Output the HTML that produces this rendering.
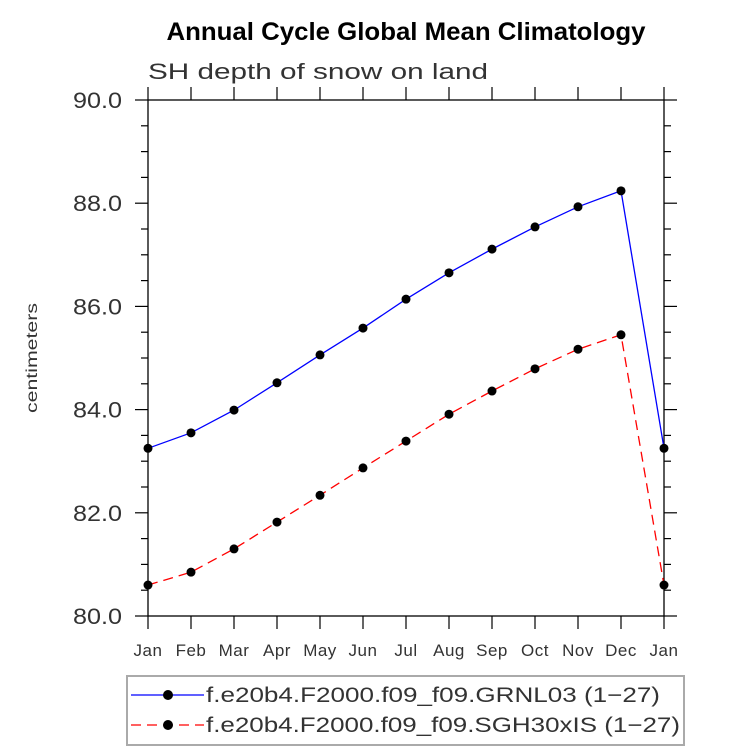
<!DOCTYPE html>
<html><head><meta charset="utf-8"><style>
body{margin:0;background:#fff;width:733px;height:751px;overflow:hidden}
text{font-family:"Liberation Sans",sans-serif}
</style></head><body>
<svg id="chart" width="733" height="751" xmlns="http://www.w3.org/2000/svg">
<text x="406" y="40" text-anchor="middle" font-size="25" font-weight="bold" textLength="479" lengthAdjust="spacingAndGlyphs">Annual Cycle Global Mean Climatology</text>
<text x="148" y="79" font-size="22" fill="#333" textLength="340" lengthAdjust="spacingAndGlyphs">SH depth of snow on land</text>
<text transform="translate(37,358) rotate(-90)" text-anchor="middle" font-size="16" fill="#333" textLength="110" lengthAdjust="spacingAndGlyphs">centimeters</text>
<g id="axes"></g>
<g id="series"></g>
<rect x="127" y="676" width="557" height="69" fill="none" stroke="#aaa" stroke-width="2"/>
<g>
<line x1="131" y1="695" x2="204" y2="695" stroke="#00f" stroke-width="1.3"/>
<circle cx="168" cy="695" r="5" fill="#000"/>
<text x="206" y="702" font-size="21" fill="#333" textLength="454" lengthAdjust="spacingAndGlyphs">f.e20b4.F2000.f09_f09.GRNL03 (1−27)</text>
</g>
<g>
<line x1="131" y1="725" x2="204" y2="725" stroke="#f00" stroke-width="1.3" stroke-dasharray="10,6"/>
<circle cx="168" cy="725" r="5" fill="#000"/>
<text x="206" y="732" font-size="21" fill="#333" textLength="474" lengthAdjust="spacingAndGlyphs">f.e20b4.F2000.f09_f09.SGH30xIS (1−27)</text>
</g>
</svg>
<script>
const months=["Jan","Feb","Mar","Apr","May","Jun","Jul","Aug","Sep","Oct","Nov","Dec","Jan"];
const yTicks=["80.0","82.0","84.0","86.0","88.0","90.0"];
const grnl03=[83.25,83.55,83.99,84.52,85.06,85.58,86.14,86.65,87.11,87.54,87.93,88.24,83.25];
const sgh30xis=[80.6,80.85,81.3,81.82,82.34,82.87,83.39,83.91,84.36,84.79,85.17,85.45,80.6];
const L=148,R=664,T=100,B=616,ymin=80,ymax=90;
const xs=i=>L+(R-L)*i/(months.length-1);
const ys=v=>B-(v-ymin)/(ymax-ymin)*(B-T);
const NS="http://www.w3.org/2000/svg";
function mk(tag,at,parent){const e=document.createElementNS(NS,tag);for(const k in at)e.setAttribute(k,at[k]);parent.appendChild(e);return e;}
const ax=document.getElementById('axes'),se=document.getElementById('series');
let fr=mk('rect',{x:L,y:T,width:R-L,height:B-T,fill:'none',stroke:'#000','stroke-width':1.3},ax);


for(let v=ymin;v<=ymax+0.001;v+=0.5){
  const y=ys(v),maj=Math.abs(v%2)<0.01,len=maj?13:7;
  mk('line',{x1:L-len,y1:y,x2:L,y2:y,stroke:'#000','stroke-width':1.2},ax);
  mk('line',{x1:R,y1:y,x2:R+len,y2:y,stroke:'#000','stroke-width':1.2},ax);
}
yTicks.forEach(t=>{
  const e=mk('text',{x:L-26,y:ys(parseFloat(t))+8,'text-anchor':'end','font-size':22,fill:'#333',textLength:49,lengthAdjust:'spacingAndGlyphs'},ax);
  e.textContent=t;
  
  
});
months.forEach((m,i)=>{
  const x=xs(i);
  mk('line',{x1:x,y1:B,x2:x,y2:B+13,stroke:'#000','stroke-width':1.2},ax);
  mk('line',{x1:x,y1:T-13,x2:x,y2:T,stroke:'#000','stroke-width':1.2},ax);
  const e=mk('text',{x:x,y:B+40,'text-anchor':'middle','font-size':17,fill:'#333','letter-spacing':0.5},ax);
  e.textContent=m;
  
  
});
function draw(vals,color,dash,name){
  const p=mk('polyline',{points:vals.map((v,i)=>xs(i)+','+ys(v)).join(' '),fill:'none',stroke:color,'stroke-width':1.3,'stroke-dasharray':dash},se);
  
  
  vals.forEach((v,i)=>{
    const c=mk('circle',{cx:xs(i),cy:ys(v),r:4.5,fill:'#000'},se);
    
    
  });
}
draw(grnl03,'#00f','none','grnl03');
draw(sgh30xis,'#f00','10,6','sgh30xis');
</script>
</body></html>
